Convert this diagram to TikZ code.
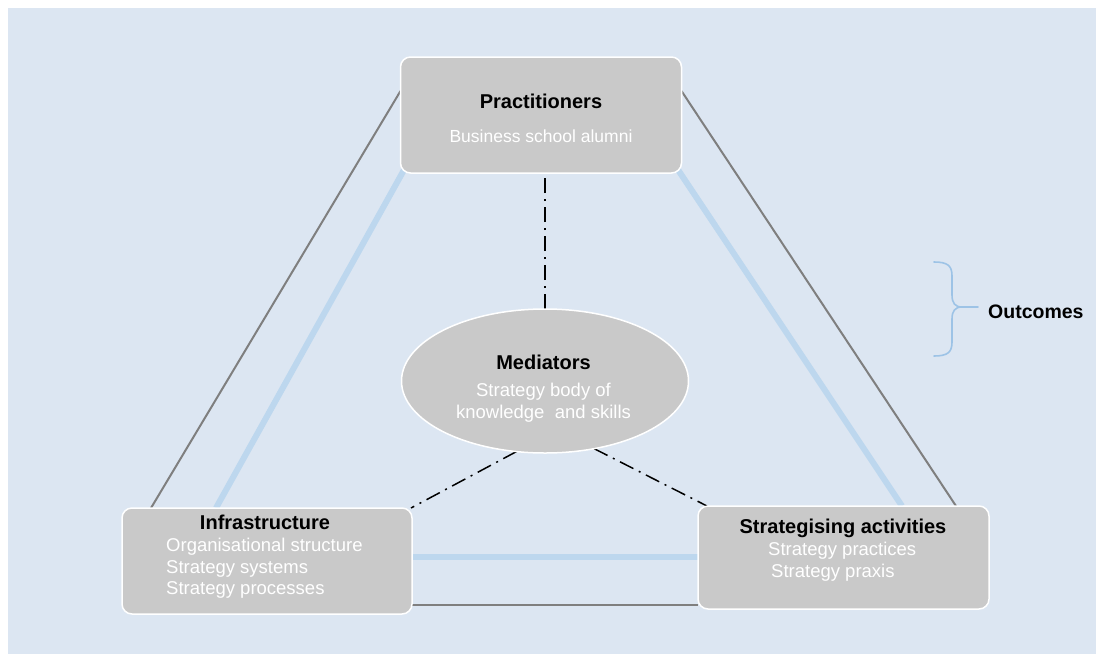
\documentclass[tikz,border=0pt]{standalone}
\usepackage{fontspec}
\setmainfont{Liberation Sans}
\usetikzlibrary{shapes.geometric}

\definecolor{bgblue}{RGB}{220,230,242}
\definecolor{boxgray}{RGB}{201,201,201}
\definecolor{linkgray}{RGB}{127,127,127}
\definecolor{linkblue}{RGB}{189,215,238}
\definecolor{bracecol}{RGB}{157,195,230}

\pgfdeclarelayer{back}
\pgfdeclarelayer{links}
\pgfsetlayers{back,links,main}

\begin{document}
\begin{tikzpicture}[x=1pt,y=-1pt,
  box/.style={draw=white, line width=1.5pt, fill=boxgray, rounded corners=10pt,
    inner sep=0pt, outer sep=0pt},
  oval/.style={ellipse, draw=white, line width=1.5pt, fill=boxgray,
    inner sep=0pt, outer sep=0pt},
  title/.style={font=\bfseries\fontsize{20}{24}\selectfont, text=black, inner sep=0pt},
  sub/.style={font=\fontsize{18.5}{22}\selectfont, text=white, inner sep=0pt},
  greylink/.style={draw=linkgray, line width=2pt},
  bluelink/.style={draw=linkblue, line width=6pt},
  dashlink/.style={draw=black, line width=1.5pt,
    dash pattern=on 15pt off 6pt on 2pt off 6pt},
  bracestyle/.style={draw=bracecol, line width=1.6pt, line cap=round}
]
\useasboundingbox (0,0) rectangle (1097,654);
\begin{pgfonlayer}{back}
  \fill[bgblue] (8,8) rectangle (1096,654);
\end{pgfonlayer}

% the four elements of the model
\node[box, minimum width=281pt, minimum height=116pt] (prac) at (541,115) {};
\node[box, minimum width=290pt, minimum height=106pt] (infra) at (267,561) {};
\node[box, minimum width=291pt, minimum height=103pt] (strat) at (843.5,557.5) {};
\node[oval, minimum width=287pt, minimum height=144pt] (med) at (545,381) {};

% labels
\node[title, anchor=base] (prac-title) at (541,108) {Practitioners};
\node[sub, anchor=base, font=\fontsize{17.5}{21}\selectfont] (prac-sub) at (541,142) {Business school alumni};

\node[title, anchor=base] (med-title) at (543.5,369) {Mediators};
\node[sub, anchor=base] (med-sub1) at (543.5,396) {Strategy body of};
\node[sub, anchor=base] (med-sub2) at (543.5,418) {knowledge\ \ and skills};

\node[title, anchor=base] (infra-title) at (265,529) {Infrastructure};
\node[sub, anchor=base west] (infra-sub1) at (166,551) {Organisational structure};
\node[sub, anchor=base west] (infra-sub2) at (166,573) {Strategy systems};
\node[sub, anchor=base west] (infra-sub3) at (166,594) {Strategy processes};

\node[title, anchor=base] (strat-title) at (843,533) {Strategising activities};
\node[sub, anchor=base west] (strat-sub1) at (768,555) {Strategy practices};
\node[sub, anchor=base west] (strat-sub2) at (771,577) {Strategy praxis};

\node[title, anchor=base west, font=\bfseries\fontsize{19.5}{23}\selectfont] (outcomes) at (988,318) {Outcomes};

% connectors drawn beneath the boxes
\begin{pgfonlayer}{links}
  \draw[greylink] ([yshift=24pt]prac.west) -- ([xshift=29pt]infra.north west);
  \draw[greylink] ([yshift=24pt]prac.east) -- ([xshift=-33pt]strat.north east);
  \draw[greylink] ([yshift=-44pt]infra.east) -- ([yshift=-47.5pt]strat.west);

  \draw[bluelink] ([xshift=4pt,yshift=4pt]prac.south west) -- ([xshift=94pt]infra.north west);
  \draw[bluelink] ([xshift=-4pt,yshift=4pt]prac.south east) -- ([xshift=-87pt]strat.north east);
  \draw[bluelink] ([yshift=4pt]infra.east) -- ([yshift=0.5pt]strat.west);

  \draw[dashlink] (med.north) -- (med.north |- prac.south);
  \draw[dashlink] (med.248) -- ([xshift=-1pt]infra.north east);
  \draw[dashlink] (med.306) -- ([xshift=9pt]strat.north west);
\end{pgfonlayer}

% brace grouping the outcomes
\draw[bracestyle] (934,262) .. controls (948,262) and (952,266) .. (952,276)
  -- (952,295) .. controls (952,303) and (955,307) .. (962,307) -- (978,307);
\draw[bracestyle] (962,307) .. controls (955,307) and (952,311) .. (952,319)
  -- (952,342) .. controls (952,352) and (948,356) .. (934,356);
\end{tikzpicture}
\end{document}
